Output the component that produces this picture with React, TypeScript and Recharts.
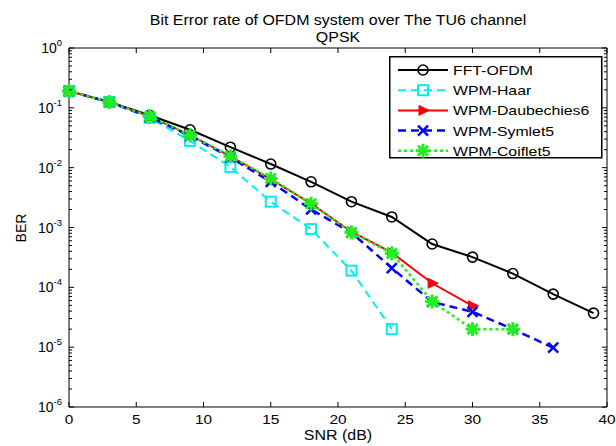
import React from 'react';
import { LineChart, Line, XAxis, YAxis } from 'recharts';

const SNR = [0, 3, 6, 9, 12, 15, 18, 21, 24, 27, 30, 33, 36, 39];
const FFT_OFDM = [0.19, 0.125, 0.075, 0.043, 0.022, 0.0115, 0.0058, 0.0027, 0.0015, 0.00053, 0.00032, 0.00017, 0.000077, 0.000037];
const WPM_HAAR = [0.19, 0.125, 0.068, 0.028, 0.0103, 0.0027, 0.00094, 0.00019, 0.00002];
const WPM_DB6 = [0.19, 0.125, 0.072, 0.035, 0.0155, 0.0064, 0.0025, 0.00085, 0.00038, 0.000117, 0.000049];
const WPM_SYM5 = [0.19, 0.125, 0.07, 0.034, 0.0148, 0.0058, 0.002, 0.00082, 0.00021, 0.000057, 0.000039, 0.00002, 0.0000098];
const WPM_COIF5 = [0.19, 0.125, 0.072, 0.035, 0.0155, 0.0066, 0.0025, 0.00083, 0.00037, 0.000058, 0.00002, 0.00002];

const X_TICKS = [0, 5, 10, 15, 20, 25, 30, 35, 40];
const Y_MAJOR = [1e-6, 1e-5, 1e-4, 1e-3, 1e-2, 1e-1, 1];
const MINOR_MULT = [2, 3, 4, 5, 6, 7, 8, 9];

const Y_TICKS = [
  ...Y_MAJOR,
  ...Y_MAJOR.slice(0, -1).flatMap(d => MINOR_MULT.map(m => m * d)),
];

const rows = SNR.map((snr, i) => ({
  snr,
  fft: FFT_OFDM[i],
  haar: WPM_HAAR[i],
  db6: WPM_DB6[i],
  sym5: WPM_SYM5[i],
  coif5: WPM_COIF5[i],
}));

const FONT = '"Liberation Sans", Arial, Helvetica, sans-serif';
const STRETCH = 1.14; // the original figure is a bit wider than tall

type MarkerKind = 'circle' | 'square' | 'triangle' | 'cross' | 'star';

const series: { key: string; name: string; color: string; width: number; dash?: string; marker: MarkerKind }[] = [
  { key: 'fft', name: 'FFT-OFDM', color: '#000000', width: 2, marker: 'circle' },
  { key: 'haar', name: 'WPM-Haar', color: '#00eeee', width: 2, dash: '8 5', marker: 'square' },
  { key: 'db6', name: 'WPM-Daubechies6', color: '#ff0000', width: 2, marker: 'triangle' },
  { key: 'sym5', name: 'WPM-Symlet5', color: '#0000ff', width: 2.5, dash: '8 5', marker: 'cross' },
  { key: 'coif5', name: 'WPM-Coiflet5', color: '#22ee22', width: 2.5, dash: '3 3', marker: 'star' },
];

const Marker = ({ kind, cx, cy, color }: { kind: MarkerKind; cx: number; cy: number; color: string }) => {
  switch (kind) {
    case 'circle':
      return <circle cx={cx} cy={cy} r={5} fill="none" stroke={color} strokeWidth={1.6} />;
    case 'square':
      return <rect x={cx - 5} y={cy - 5} width={10} height={10} fill="none" stroke={color} strokeWidth={2} />;
    case 'triangle':
      return <polygon points={`${cx + 6},${cy} ${cx - 4},${cy - 5} ${cx - 4},${cy + 5}`} fill={color} stroke={color} strokeWidth={1} />;
    case 'cross':
      return (
        <g stroke={color} strokeWidth={2.5}>
          <line x1={cx - 5} y1={cy - 5} x2={cx + 5} y2={cy + 5} />
          <line x1={cx - 5} y1={cy + 5} x2={cx + 5} y2={cy - 5} />
        </g>
      );
    case 'star':
      return (
        <g stroke={color} strokeWidth={3}>
          <line x1={cx - 7} y1={cy} x2={cx + 7} y2={cy} />
          <line x1={cx} y1={cy - 7} x2={cx} y2={cy + 7} />
          <line x1={cx - 5} y1={cy - 5} x2={cx + 5} y2={cy + 5} />
          <line x1={cx - 5} y1={cy + 5} x2={cx + 5} y2={cy - 5} />
        </g>
      );
  }
  return null;
};

const isMajor = (v: number) => Y_MAJOR.some(m => Math.abs(v - m) / m < 1e-6);

const LeftTick = (props: any) => {
  const { x, y, payload } = props;
  const v = payload.value;
  if (!isMajor(v)) {
    return <line x1={x} y1={y} x2={x + 3} y2={y} stroke="#000" />;
  }
  const exp = Math.round(Math.log10(v));
  return (
    <g>
      <line x1={x} y1={y} x2={x + 5} y2={y} stroke="#000" />
      <text x={x - 7} y={y + 5} textAnchor="end" fontSize={14} fontFamily={FONT} fill="#000">
        <tspan>10</tspan>
        <tspan dy={-7} fontSize={9.5}>{exp}</tspan>
      </text>
    </g>
  );
};

const RightTick = (props: any) => {
  const { x, y, payload } = props;
  const len = isMajor(payload.value) ? 5 : 3;
  return <line x1={x} y1={y} x2={x - len} y2={y} stroke="#000" />;
};

const BottomTick = (props: any) => {
  const { x, y, payload } = props;
  return (
    <g>
      <line x1={x} y1={y} x2={x} y2={y - 5} stroke="#000" />
      <text
        transform={`translate(${x},${y + 17}) scale(${STRETCH},1)`}
        textAnchor="middle"
        fontSize={13.5}
        fontFamily={FONT}
        fill="#000"
      >
        {payload.value}
      </text>
    </g>
  );
};

const TopTick = (props: any) => {
  const { x, y } = props;
  return <line x1={x} y1={y} x2={x} y2={y + 5} stroke="#000" />;
};

const LegendBox = () => (
  <svg width={214} height={103} style={{ position: 'absolute', left: 389, top: 56 }}>
    <rect x={0.75} y={0.75} width={212} height={101} fill="#fff" stroke="#000" strokeWidth={1.5} />
    {series.map((s, i) => {
      const cy = 14 + i * 20.2;
      return (
        <g key={s.key}>
          <line x1={9} y1={cy} x2={59} y2={cy} stroke={s.color} strokeWidth={s.width} strokeDasharray={s.dash} />
          <Marker kind={s.marker} cx={34} cy={cy} color={s.color} />
          <text
            transform={`translate(64,${cy + 5}) scale(1.2,1)`}
            fontSize={13.2}
            fontFamily={FONT}
            fill="#000"
          >
            {s.name}
          </text>
        </g>
      );
    })}
  </svg>
);

export default function App() {
  return (
    <div style={{ position: 'relative', width: 616, height: 446, background: '#fff', fontFamily: FONT }}>
      <style>{'body{margin:0}'}</style>
      <div
        style={{
          position: 'absolute',
          left: 0,
          width: 676,
          top: 12,
          textAlign: 'center',
          fontSize: 14,
          lineHeight: '17px',
          color: '#000',
          transform: `scale(${STRETCH},1)`,
          transformOrigin: '338px 0',
        }}
      >
        Bit Error rate of OFDM system over The TU6 channel
        <br />
        QPSK
      </div>
      <LineChart width={616} height={446} data={rows} margin={{ top: 47, right: 8, bottom: 0, left: 0 }}>
        <XAxis
          xAxisId="bottom"
          dataKey="snr"
          type="number"
          domain={[0, 40]}
          ticks={X_TICKS}
          interval={0}
          height={39}
          tickSize={0}
          tickMargin={0}
          tickLine={false}
          axisLine={{ stroke: '#000' }}
          tick={<BottomTick />}
        />
        <XAxis
          xAxisId="top"
          orientation="top"
          dataKey="snr"
          type="number"
          domain={[0, 40]}
          ticks={X_TICKS}
          interval={0}
          height={1}
          tickSize={0}
          tickMargin={0}
          tickLine={false}
          axisLine={{ stroke: '#000' }}
          tick={<TopTick />}
        />
        <YAxis
          yAxisId="left"
          type="number"
          scale="log"
          domain={[1e-6, 1]}
          allowDataOverflow
          ticks={Y_TICKS}
          interval={0}
          width={69}
          tickSize={0}
          tickMargin={0}
          tickLine={false}
          axisLine={{ stroke: '#000' }}
          tick={<LeftTick />}
        />
        <YAxis
          yAxisId="right"
          orientation="right"
          type="number"
          scale="log"
          domain={[1e-6, 1]}
          allowDataOverflow
          ticks={Y_TICKS}
          interval={0}
          width={1}
          tickSize={0}
          tickMargin={0}
          tickLine={false}
          axisLine={{ stroke: '#000' }}
          tick={<RightTick />}
        />
        {series.map(s => (
          <Line
            key={s.key}
            xAxisId="bottom"
            yAxisId="left"
            type="linear"
            dataKey={s.key}
            name={s.name}
            stroke={s.color}
            strokeWidth={s.width}
            strokeDasharray={s.dash}
            isAnimationActive={false}
            dot={(p: any) =>
              p.cx == null || p.cy == null || p.value == null ? (
                <g key={`${s.key}-${p.index}`} />
              ) : (
                <g key={`${s.key}-${p.index}`}>
                  <Marker kind={s.marker} cx={p.cx} cy={p.cy} color={s.color} />
                </g>
              )
            }
            activeDot={false}
          />
        ))}
      </LineChart>
      <LegendBox />
      <div
        style={{
          position: 'absolute',
          left: 0,
          width: 676,
          top: 427,
          textAlign: 'center',
          fontSize: 14,
          lineHeight: '16px',
          color: '#000',
          transform: `scale(${STRETCH},1)`,
          transformOrigin: '338px 0',
        }}
      >
        SNR (dB)
      </div>
      <div
        style={{
          position: 'absolute',
          left: 21,
          top: 228,
          transform: 'translate(-50%,-50%) rotate(-90deg)',
          fontSize: 14,
          lineHeight: '16px',
          color: '#000',
        }}
      >
        BER
      </div>
    </div>
  );
}
